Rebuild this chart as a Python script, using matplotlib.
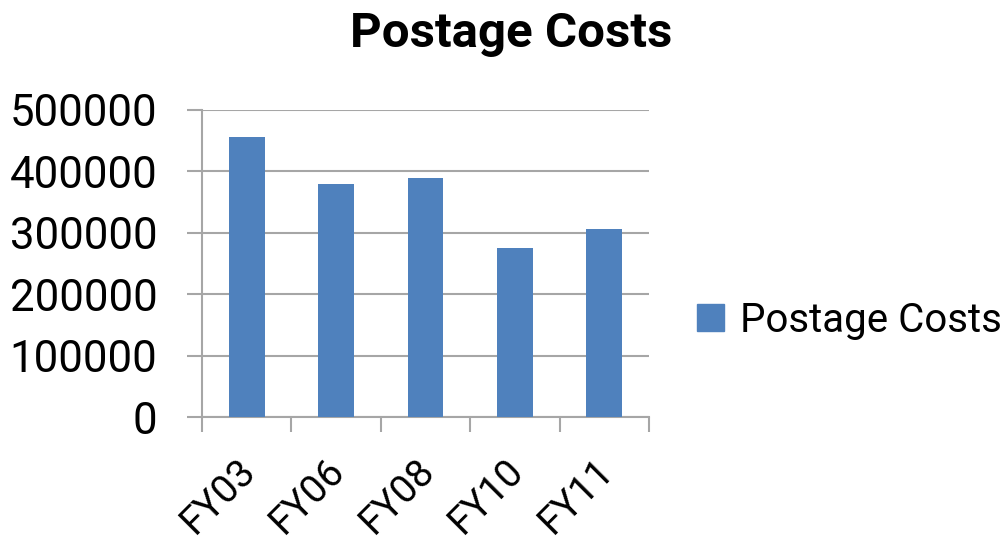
import matplotlib
matplotlib.use('Agg')
import matplotlib.pyplot as plt
import matplotlib.transforms as mtransforms
from matplotlib.patches import Patch
import numpy as np

# data
years = ['FY03', 'FY06', 'FY08', 'FY10', 'FY11']
costs = [456000, 380000, 390000, 275000, 306000]

barcolor = '#4F81BD'
gridcolor = '#A6A6A6'
plt.rc('font', family=['Roboto', 'DejaVu Sans'])

fig = plt.figure(figsize=(10.08, 5.44), dpi=100)
W, H = 1008., 544.
ax = fig.add_axes([202/W, (H-417)/H, 447/W, 307/H])

x = np.arange(len(years))
ax.bar(x, costs, width=0.4, color=barcolor, zorder=3)

ax.set_xlim(-0.5, len(years)-0.5)
ax.set_ylim(0, 500000)
ax.set_yticks(np.arange(0, 500001, 100000))
ax.yaxis.grid(True, color=gridcolor, linewidth=1.5, zorder=0)

# ticks on category boundaries, labels at centres
ax.set_xticks(np.arange(-0.5, len(years), 1.0))
ax.set_xticklabels([])
ax.set_xticks(x, minor=True)
ax.set_xticklabels(years, minor=True, rotation=45, ha='right', va='top',
                   rotation_mode='anchor', fontsize=28)
ax.tick_params(axis='x', which='minor', length=0, pad=25)
ax.tick_params(axis='x', which='major', length=11, width=1.5, color=gridcolor)
ax.tick_params(axis='y', length=11, width=1.5, color=gridcolor, labelsize=31.5, pad=21)
offset = mtransforms.ScaledTranslation(-0.10, 0, fig.dpi_scale_trans)
for lab in ax.get_xticklabels(minor=True):
    lab.set_transform(lab.get_transform() + offset)

for s in ['top', 'right']:
    ax.spines[s].set_visible(False)
for s in ['left', 'bottom']:
    ax.spines[s].set_color(gridcolor)
    ax.spines[s].set_linewidth(1.5)

fig.text(511/W, 1-34/H, 'Postage Costs', ha='center', va='center',
         fontsize=35.5, fontweight='bold')

fig.legend(handles=[Patch(color=barcolor, label='Postage Costs')],
           loc='center left', bbox_to_anchor=(697/W, 1-320/H), frameon=False,
           borderpad=0, borderaxespad=0,
           fontsize=29, handlelength=0.66, handleheight=0.66, handletextpad=0.4)

plt.savefig('out.png', dpi=100)
